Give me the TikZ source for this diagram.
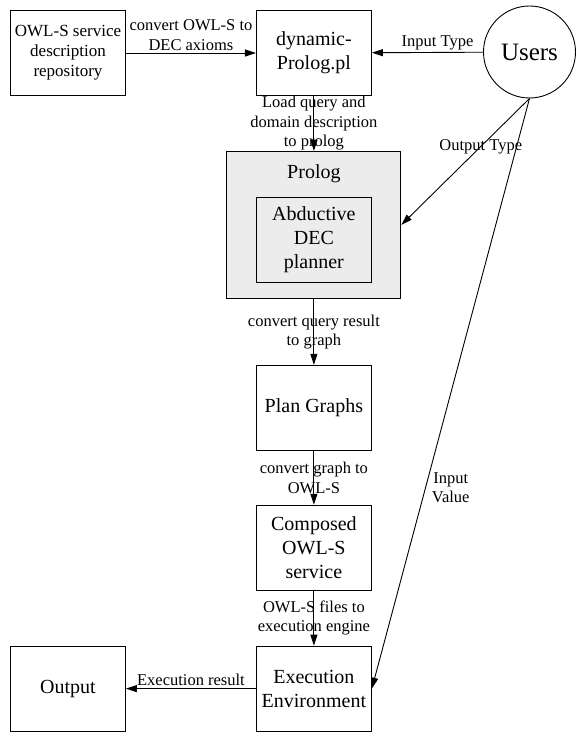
\documentclass[tikz,border=0pt]{standalone}
\usepackage{fontspec}
\setmainfont{Liberation Serif}
\usetikzlibrary{positioning,arrows.meta}

\begin{document}
\begin{tikzpicture}[x=1pt, y=-1pt, node distance=55pt and 130pt, every node/.style={font=\fontsize{16.5}{19.5}\selectfont}, box/.style={draw, line width=0.9pt, minimum width=115pt, minimum height=85pt, align=center, font=\fontsize{20}{24}\selectfont}, lbl/.style={align=center, inner sep=2pt}, arr/.style={->, >={Triangle[length=11pt,width=7pt]}, line width=0.9pt}]
    \useasboundingbox (0,0) rectangle (576,733);
    \node[box, font=\fontsize{17}{20}\selectfont] (repo) at (68,53) {OWL-S service\\description\\repository};
    \node[box, right=of repo] (dyn) {dynamic-\\Prolog.pl};
    \node[draw, circle, line width=0.9pt, minimum size=92pt, inner sep=0pt, font=\fontsize{25}{30}\selectfont] (users) at (529.5,52) {Users};
    \node[box, below=of dyn, minimum width=174pt, minimum height=147pt, fill=gray!15] (prolog) {};
    \node[font=\fontsize{20}{24}\selectfont] (prologtitle) at ([yshift=-23pt]prolog.north) {Prolog};
    \node[box, above=16pt of prolog.south] (planner) {Abductive\\DEC\\planner};
    \node[box, below=66pt of prolog] (plan) {Plan Graphs};
    \node[box, below=54pt of plan] (composed) {Composed\\OWL-S\\service};
    \node[box, below=of composed] (exec) {Execution\\Environment};
    \node[box, left=of exec] (output) {Output};
    \draw[arr] (repo) -- node[lbl, above] {convert OWL-S to\\DEC axioms} (dyn);
    \draw[arr] (users) -- node[lbl, above, pos=0.41] {Input Type} (dyn);
    \draw[arr] (dyn) -- node[lbl] {Load query and\\domain description\\to prolog} (prolog);
    \draw[arr] (users.south) -- node[lbl, pos=0.38] {Output Type} (prolog.east);
    \draw[arr] (prolog) -- node[lbl] {convert query result\\to graph} (plan);
    \draw[arr] (plan) -- node[lbl] {convert graph to\\OWL-S} (composed);
    \draw[arr] (composed) -- node[lbl] {OWL-S files to\\execution engine} (exec);
    \draw[arr] (users.south) -- node[lbl, right, pos=0.66, inner sep=6pt] {Input\\Value} (exec.east);
    \draw[arr] (exec) -- node[lbl, above] {Execution result} (output);
  \end{tikzpicture}
\end{document}
